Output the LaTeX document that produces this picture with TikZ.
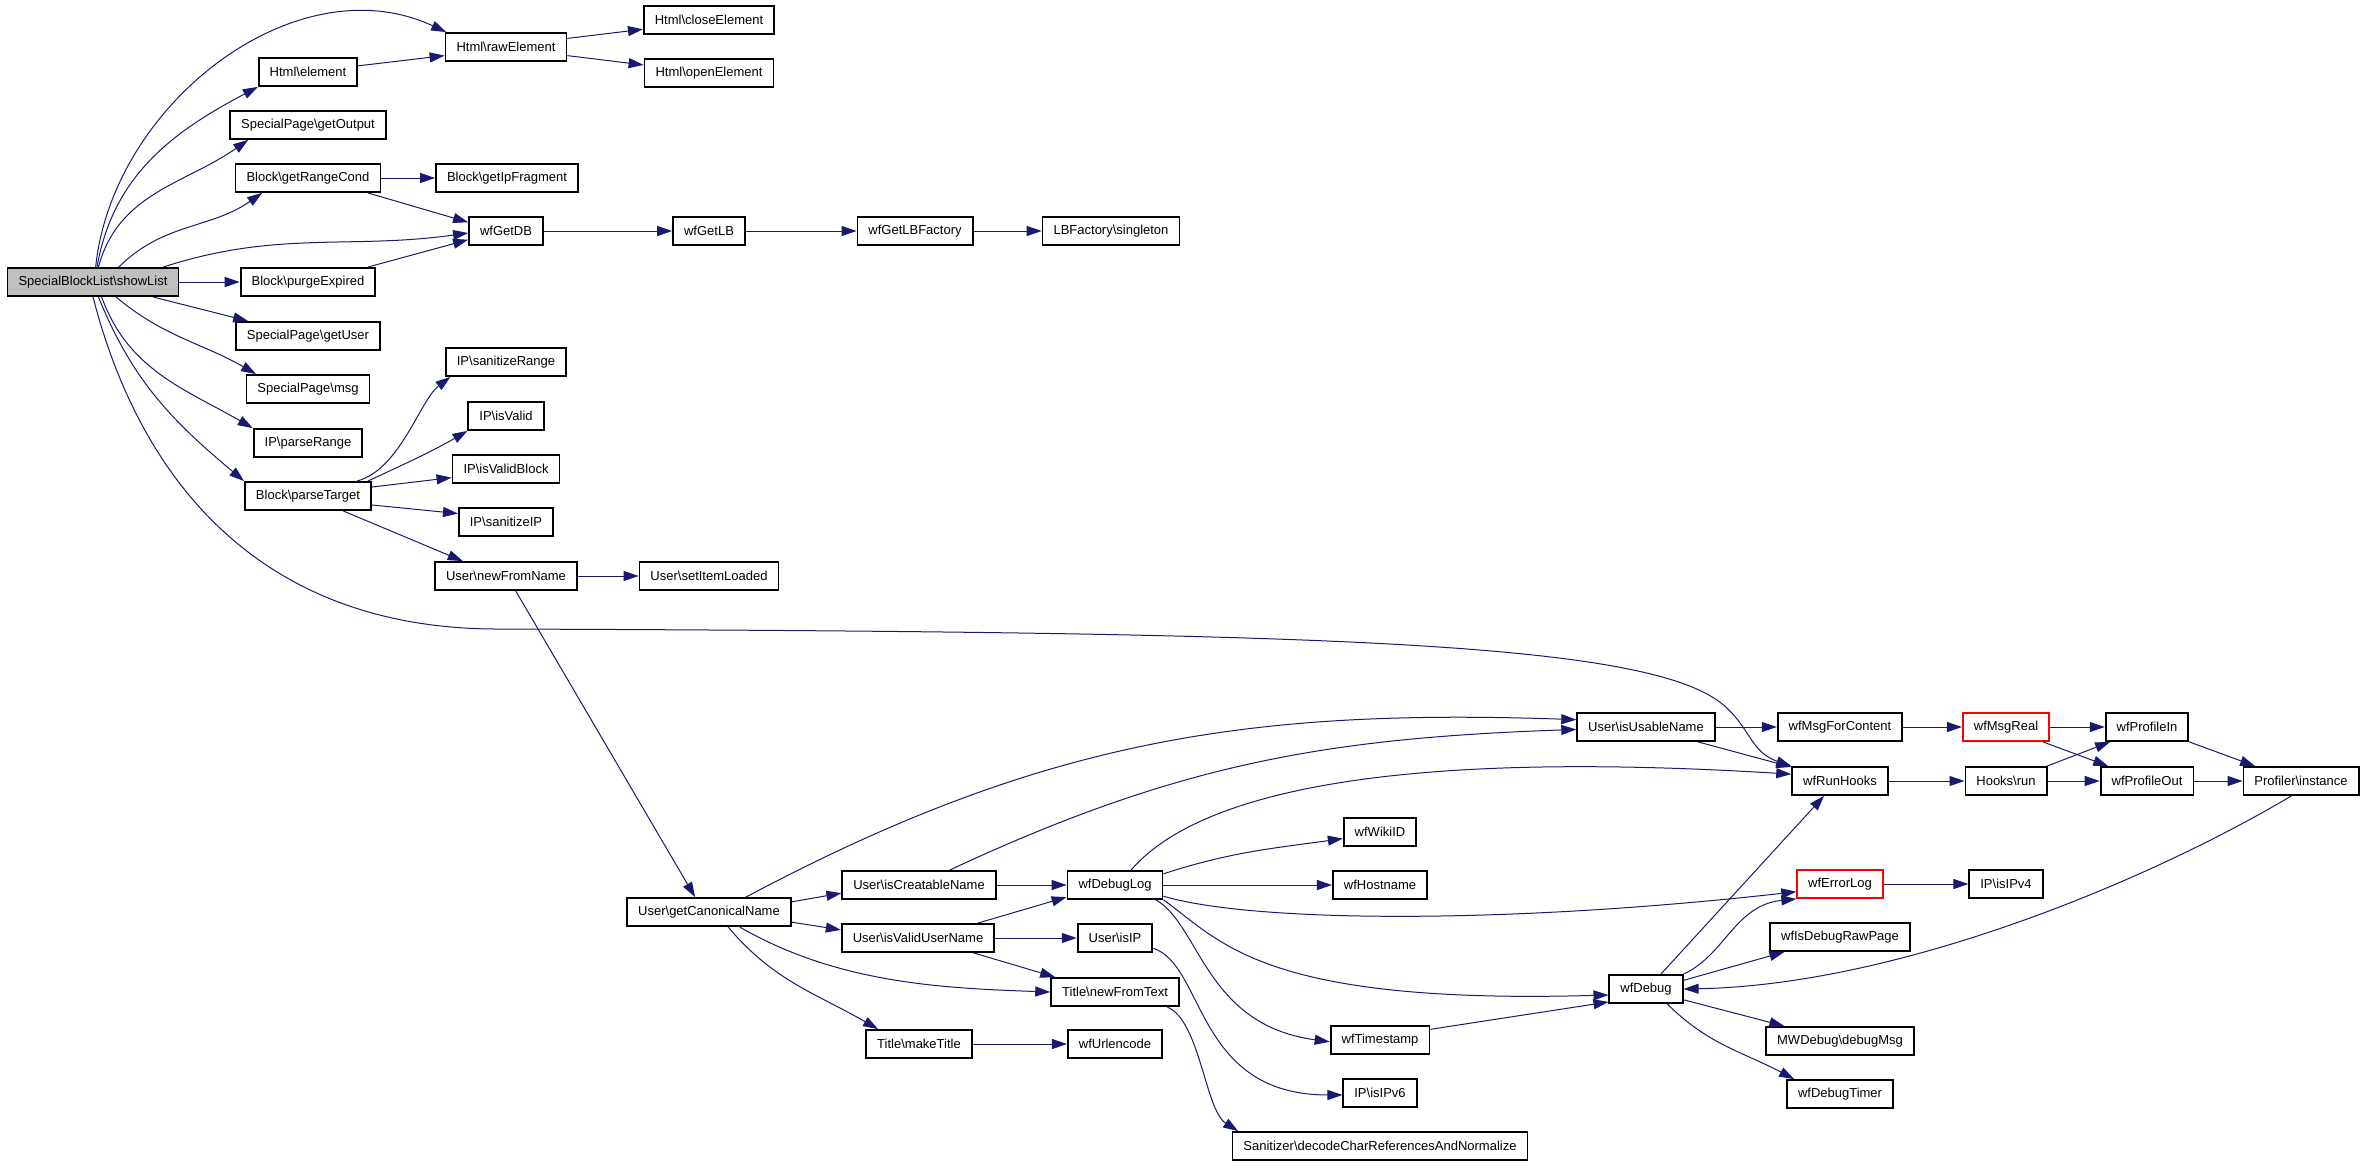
\documentclass[tikz,border=0pt]{standalone}
\usepackage{fontspec}
\setmainfont{Liberation Sans}
\usepackage{tikz}
\usetikzlibrary{arrows.meta}
\definecolor{edgeblue}{RGB}{25,25,112}
\definecolor{rootgray}{RGB}{191,191,191}
\newcommand{\bsl}{\textbackslash}

\begin{document}
\begin{tikzpicture}[x=0.5pt,y=0.5pt,
    fn/.style={draw=black,line width=0.9pt,fill=white,minimum height=14pt,inner xsep=5.5pt,inner ysep=0pt,font=\fontsize{6.5}{8}\selectfont},
    root/.style={fn,fill=rootgray},
    warn/.style={fn,draw=red},
    call/.style={draw=edgeblue,line width=0.5pt,-{Triangle[length=7.5pt,width=5pt]}}]
  \useasboundingbox (0,0) rectangle (2365,-1167);

  \node[root] (showList) at (93,-282) {SpecialBlockList\bsl showList};
  \node[fn] (htmlElement) at (308,-72) {Html\bsl element};
  \node[fn] (rawElement) at (506,-47) {Html\bsl rawElement};
  \node[fn] (closeElement) at (709,-20) {Html\bsl closeElement};
  \node[fn] (openElement) at (709,-73) {Html\bsl openElement};
  \node[fn] (getOutput) at (308,-125) {SpecialPage\bsl getOutput};
  \node[fn] (getRangeCond) at (308,-178) {Block\bsl getRangeCond};
  \node[fn] (getIpFragment) at (507,-178) {Block\bsl getIpFragment};
  \node[fn] (wfGetDB) at (506,-231) {wfGetDB};
  \node[fn] (wfGetLB) at (709,-231) {wfGetLB};
  \node[fn] (wfGetLBFactory) at (915,-231) {wfGetLBFactory};
  \node[fn] (lbSingleton) at (1111,-231) {LBFactory\bsl singleton};
  \node[fn] (purgeExpired) at (308,-282) {Block\bsl purgeExpired};
  \node[fn] (getUser) at (308,-336) {SpecialPage\bsl getUser};
  \node[fn] (spMsg) at (308,-389) {SpecialPage\bsl msg};
  \node[fn] (parseRange) at (308,-443) {IP\bsl parseRange};
  \node[fn] (parseTarget) at (308,-496) {Block\bsl parseTarget};
  \node[fn] (sanitizeRange) at (506,-362) {IP\bsl sanitizeRange};
  \node[fn] (isValid) at (506,-416) {IP\bsl isValid};
  \node[fn] (isValidBlock) at (506,-469) {IP\bsl isValidBlock};
  \node[fn] (sanitizeIP) at (506,-522) {IP\bsl sanitizeIP};
  \node[fn] (newFromName) at (506,-576) {User\bsl newFromName};
  \node[fn] (setItemLoaded) at (709,-576) {User\bsl setItemLoaded};
  \node[fn] (getCanonicalName) at (709,-912) {User\bsl getCanonicalName};
  \node[fn] (isCreatableName) at (919,-885) {User\bsl isCreatableName};
  \node[fn] (isValidUserName) at (918,-938) {User\bsl isValidUserName};
  \node[fn] (makeTitle) at (919,-1044) {Title\bsl makeTitle};
  \node[fn] (wfDebugLog) at (1115,-885) {wfDebugLog};
  \node[fn] (userIsIP) at (1115,-938) {User\bsl isIP};
  \node[fn] (newFromText) at (1115,-992) {Title\bsl newFromText};
  \node[fn] (wfUrlencode) at (1115,-1044) {wfUrlencode};
  \node[fn] (wfWikiID) at (1380,-832) {wfWikiID};
  \node[fn] (wfHostname) at (1380,-885) {wfHostname};
  \node[fn] (wfTimestamp) at (1380,-1040) {wfTimestamp};
  \node[fn] (isIPv6) at (1380,-1093) {IP\bsl isIPv6};
  \node[fn] (sanitizer) at (1380,-1146) {Sanitizer\bsl decodeCharReferencesAndNormalize};
  \node[fn] (isUsableName) at (1646,-727) {User\bsl isUsableName};
  \node[fn] (wfMsgForContent) at (1840,-727) {wfMsgForContent};
  \node[warn] (wfMsgReal) at (2006,-727) {wfMsgReal};
  \node[fn] (wfProfileIn) at (2147,-727) {wfProfileIn};
  \node[fn] (wfRunHooks) at (1840,-781) {wfRunHooks};
  \node[fn] (hooksRun) at (2006,-781) {Hooks\bsl run};
  \node[fn] (wfProfileOut) at (2147,-781) {wfProfileOut};
  \node[fn] (profilerInstance) at (2301,-781) {Profiler\bsl instance};
  \node[warn] (wfErrorLog) at (1840,-884) {wfErrorLog};
  \node[fn] (isIPv4) at (2006,-884) {IP\bsl isIPv4};
  \node[fn] (wfIsDebugRawPage) at (1840,-937) {wfIsDebugRawPage};
  \node[fn] (wfDebug) at (1646,-989) {wfDebug};
  \node[fn] (debugMsg) at (1840,-1041) {MWDebug\bsl debugMsg};
  \node[fn] (wfDebugTimer) at (1840,-1094) {wfDebugTimer};

  % calls made by showList
  \draw[call] (showList.80) to[out=84,in=155] (rawElement.166);
  \draw[call] (showList.75) to[out=80,in=208] (htmlElement.south west);
  \draw[call] (showList.70) to[out=75,in=215] (getOutput.194);
  \draw[call] (showList.30) to[out=45,in=215] (getRangeCond.198);
  \draw[call] (showList.12) to[out=18,in=188] (wfGetDB.183);
  \draw[call] (showList) -- (purgeExpired);
  \draw[call] (showList.346) -- (getUser.166);
  \draw[call] (showList.327) to[out=-40,in=150] (spMsg.164);
  \draw[call] (showList.300) to[out=-70,in=150] (parseRange.north west);
  \draw[call] (showList.290) to[out=-68,in=140] (parseTarget.north west);
  \draw[call] (showList.south) .. controls (140,-480) and (260,-630) .. (500,-629)
    .. controls (1300,-632) and (1640,-640) .. (1721,-703)
    .. controls (1750,-726) and (1750,-752) .. (wfRunHooks.north west);

  \draw[call] (htmlElement.7) -- (rawElement.188);
  \draw[call] (rawElement.8) -- (closeElement.188);
  \draw[call] (rawElement.-8) -- (openElement.173);
  \draw[call] (getRangeCond) -- (getIpFragment);
  \draw[call] (getRangeCond.-14) -- (wfGetDB.167);
  \draw[call] (purgeExpired.14) -- (wfGetDB.193);
  \draw[call] (wfGetDB) -- (wfGetLB);
  \draw[call] (wfGetLB) -- (wfGetLBFactory);
  \draw[call] (wfGetLBFactory) -- (lbSingleton);

  \draw[call] (parseTarget.17) .. controls (400,-470) and (420,-400) .. (sanitizeRange.195);
  \draw[call] (parseTarget.14) to[out=25,in=210] (isValid.south west);
  \draw[call] (parseTarget.8) -- (isValidBlock.189);
  \draw[call] (parseTarget.-8) -- (sanitizeIP.170);
  \draw[call] (parseTarget.-23) -- (newFromName.161);
  \draw[call] (newFromName) -- (setItemLoaded);
  \draw[call] (newFromName.-57) -- (getCanonicalName.133);

  \draw[call] (getCanonicalName.22) to[out=28,in=178] (isUsableName.174);
  \draw[call] (getCanonicalName.7) -- (isCreatableName.186);
  \draw[call] (getCanonicalName.-7) -- (isValidUserName.174);
  \draw[call] (getCanonicalName.-26) to[out=-30,in=178,looseness=0.9] (newFromText.west);
  \draw[call] (getCanonicalName.-38) to[out=-50,in=150] (makeTitle.160);
  \draw[call] (isCreatableName.26) to[out=25,in=182] (isUsableName.182);
  \draw[call] (isCreatableName) -- (wfDebugLog);
  \draw[call] (isValidUserName.14) -- (wfDebugLog.194);
  \draw[call] (isValidUserName) -- (userIsIP);
  \draw[call] (isValidUserName.-15) -- (newFromText.166);
  \draw[call] (makeTitle) -- (wfUrlencode);

  \draw[call] (wfDebugLog.43) .. controls (1200,-790) and (1400,-750) .. (wfRunHooks.172);
  \draw[call] (wfDebugLog.13) to[out=18,in=188] (wfWikiID.190);
  \draw[call] (wfDebugLog) -- (wfHostname);
  \draw[call] (wfDebugLog.-13) .. controls (1250,-922) and (1500,-925) .. (wfErrorLog.190);
  \draw[call] (wfDebugLog.-17) .. controls (1220,-940) and (1260,-1005) .. (wfDebug.189);
  \draw[call] (wfDebugLog.-20) .. controls (1200,-925) and (1205,-1025) .. (wfTimestamp.182);
  \draw[call] (userIsIP.-15) .. controls (1205,-965) and (1195,-1095) .. (isIPv6.183);
  \draw[call] (newFromText.-16) .. controls (1200,-1020) and (1205,-1110) .. (sanitizer.174);
  \draw[call] (wfTimestamp.12) -- (wfDebug.199);

  \draw[call] (isUsableName) -- (wfMsgForContent);
  \draw[call] (isUsableName.-16) -- (wfRunHooks.164);
  \draw[call] (wfMsgForContent) -- (wfMsgReal);
  \draw[call] (wfMsgReal) -- (wfProfileIn);
  \draw[call] (wfMsgReal.-22) -- (wfProfileOut.159);
  \draw[call] (wfRunHooks) -- (hooksRun);
  \draw[call] (hooksRun.20) -- (wfProfileIn.202);
  \draw[call] (hooksRun) -- (wfProfileOut);
  \draw[call] (wfProfileIn.south east) -- (profilerInstance.162);
  \draw[call] (wfProfileOut) -- (profilerInstance);
  \draw[call] (profilerInstance.237) .. controls (2150,-880) and (1900,-985) .. (wfDebug.east);
  \draw[call] (wfErrorLog) -- (isIPv4);

  \draw[call] (wfDebug.45) -- (wfRunHooks.223);
  \draw[call] (wfDebug.north east) .. controls (1725,-955) and (1735,-905) .. (wfErrorLog.south west);
  \draw[call] (wfDebug.13) -- (wfIsDebugRawPage.195);
  \draw[call] (wfDebug.-16) -- (debugMsg.165);
  \draw[call] (wfDebug.-35) to[out=-45,in=152] (wfDebugTimer.162);
\end{tikzpicture}
\end{document}
